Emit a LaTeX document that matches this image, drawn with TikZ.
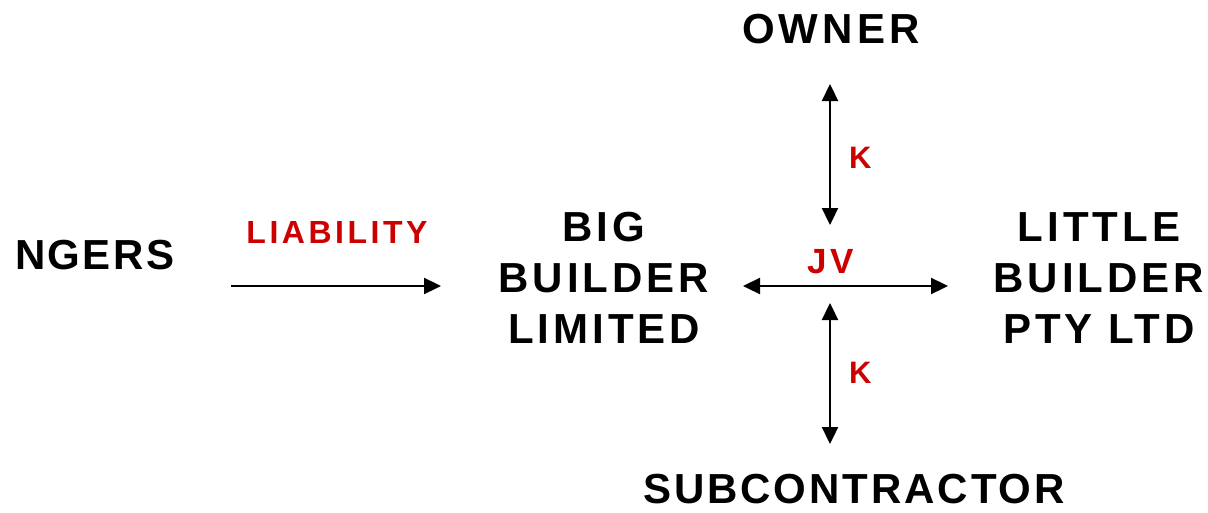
\documentclass[tikz,border=0pt]{standalone}
\usepackage{fontspec}
\setmainfont{Liberation Sans}
\newfontfamily\spacedOwner{Liberation Sans}[LetterSpace=10]
\newfontfamily\spacedLeft{Liberation Sans}[LetterSpace=6]
\newfontfamily\spacedSub{Liberation Sans}[LetterSpace=7]
\newfontfamily\spacedBlock{Liberation Sans}[LetterSpace=9.5]
\newfontfamily\spacedRel{Liberation Sans}[LetterSpace=11]
\usetikzlibrary{arrows.meta}
\definecolor{relred}{HTML}{CC0000}
\begin{document}
\begin{tikzpicture}[x=1pt,y=-1pt,
  every node/.style={inner sep=0pt,outer sep=0pt},
  party/.style={anchor=base,align=center,text=black},
  partyfont/.style={font=#1\bfseries\fontsize{42}{51}\selectfont},
  relation/.style={anchor=base,text=relred},
  tipA/.tip={Triangle[length=17pt,width=16pt]},
  link/.style={line width=2.3pt,draw=black}]
\useasboundingbox (0,0) rectangle (1208,512);

% parties
\node[party,partyfont=\spacedOwner] (owner) at (831,43) {OWNER};
\node[party,partyfont=\spacedLeft,anchor=base west] (ngers) at (15,269) {NGERS};
% multi-line nodes: base anchor is the baseline of the last line
\node[party,partyfont=\spacedBlock] (big) at (604,343) {BIG\\BUILDER\\LIMITED};
\node[party,partyfont=\spacedBlock] (little) at (1099,343) {LITTLE\\BUILDER\\PTY LTD};
\node[party,partyfont=\spacedSub] (sub) at (854,503) {SUBCONTRACTOR};

% relation labels
\node[relation,font=\spacedRel\bfseries\fontsize{32}{38}\selectfont] (liab) at (337,243) {LIABILITY};
\node[relation,font=\spacedRel\bfseries\fontsize{35}{42}\selectfont] (jv) at (831,273) {JV};
\node[relation,anchor=base west,font=\bfseries\fontsize{31}{37}\selectfont] (k1) at (849,168) {K};
\node[relation,anchor=base west,font=\bfseries\fontsize{31}{37}\selectfont] (k2) at (849,383) {K};

% connector end points
\coordinate (liabS) at (231,286);
\coordinate (liabE) at (441,286);
\coordinate (jvW) at (743,286);
\coordinate (jvE) at (948,286);
\coordinate (ownT) at (830,84);
\coordinate (ownB) at (830,225);
\coordinate (subT) at (830,303);
\coordinate (subB) at (830,444);

% connectors
\draw[link,-tipA] (liabS) -- (liabE);
\draw[link,tipA-tipA] (jvW) -- (jvE);
\draw[link,tipA-tipA] (ownT) -- (ownB);
\draw[link,tipA-tipA] (subT) -- (subB);
\end{tikzpicture}
\end{document}
